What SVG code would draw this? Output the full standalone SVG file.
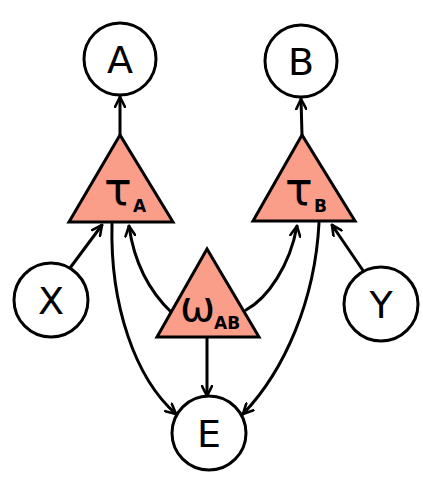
<svg xmlns="http://www.w3.org/2000/svg" width="423" height="483" viewBox="0 0 423 483">
  <style>
    .edge { fill: none; stroke: #000; stroke-width: 3; stroke-linecap: round; }
    .circ { fill: #fff; stroke: #000; stroke-width: 3; }
    .tri { fill: #FA9E8A; stroke: #000; stroke-width: 3; stroke-linejoin: miter; }
    .lbl { font-family: "DejaVu Sans", sans-serif; font-size: 38px; fill: #000; text-anchor: middle; }
    .greek { font-family: "DejaVu Sans", sans-serif; font-size: 46px; fill: #000; }
    .sub { font-family: "DejaVu Sans", sans-serif; font-size: 17px; font-weight: bold; fill: #000; }
  </style>
  <defs>
    <marker id="arr" viewBox="0 0 12 12" refX="11" refY="6" markerWidth="12" markerHeight="12" markerUnits="userSpaceOnUse" orient="auto">
      <path d="M1,1 L11,6 L1,11" fill="none" stroke="#000" stroke-width="2.6" stroke-linecap="round" stroke-linejoin="round"/>
    </marker>
  </defs>
  <g id="connectors">
    <path class="edge" d="M120,135 L120,97" marker-end="url(#arr)"/>
    <path class="edge" d="M302,135 L301,99" marker-end="url(#arr)"/>
    <path class="edge" d="M70,268 L102,225" marker-end="url(#arr)"/>
    <path class="edge" d="M364,272 L332,225" marker-end="url(#arr)"/>
    <path class="edge" d="M112,224 C110,305 135,378 176,414" marker-end="url(#arr)"/>
    <path class="edge" d="M172,313 C150,292 134,262 129,226" marker-end="url(#arr)"/>
    <path class="edge" d="M246,310 C268,298 290,265 297,226" marker-end="url(#arr)"/>
    <path class="edge" d="M319,223 C315,300 285,370 243,414" marker-end="url(#arr)"/>
    <path class="edge" d="M207,337 L207,396" marker-end="url(#arr)"/>
  </g>
  <g id="node-A">
    <circle class="circ" cx="120" cy="59" r="36"/>
    <text class="lbl" x="120" y="73">A</text>
  </g>
  <g id="node-B">
    <circle class="circ" cx="301" cy="61" r="36"/>
    <text class="lbl" x="301" y="75">B</text>
  </g>
  <g id="node-X">
    <circle class="circ" cx="51" cy="300" r="37"/>
    <text class="lbl" x="51" y="314">X</text>
  </g>
  <g id="node-Y">
    <circle class="circ" cx="381" cy="304" r="37"/>
    <text class="lbl" x="381" y="318">Y</text>
  </g>
  <g id="node-E">
    <circle class="circ" cx="209" cy="433" r="37"/>
    <text class="lbl" x="209" y="447">E</text>
  </g>
  <g id="node-tauA">
    <polygon class="tri" points="120,135 69,222 173,222"/>
    <text class="greek" x="104" y="205">τ</text>
    <text class="sub" x="133" y="212">A</text>
  </g>
  <g id="node-tauB">
    <polygon class="tri" points="302,135 253,221 355,221"/>
    <text class="greek" x="285" y="205">τ</text>
    <text class="sub" x="314" y="212">B</text>
  </g>
  <g id="node-omegaAB">
    <polygon class="tri" points="207,249 157,337 259,337"/>
    <text class="greek" x="180" y="321" style="font-size:42px">ω</text>
    <text class="sub" x="214" y="329">AB</text>
  </g>
</svg>
